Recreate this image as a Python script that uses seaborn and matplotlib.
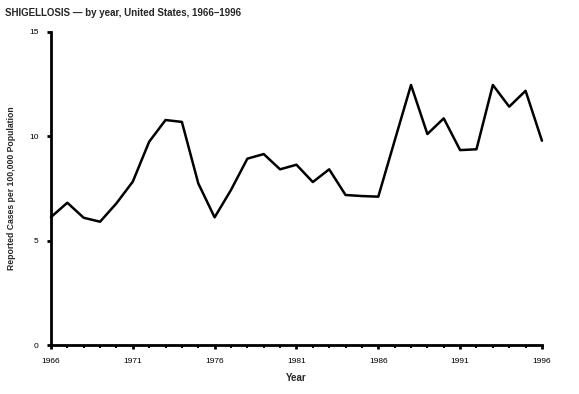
import pandas as pd
import matplotlib
matplotlib.use("Agg")
import matplotlib.pyplot as plt
from matplotlib.ticker import MultipleLocator
import seaborn as sns

# -------- DATA --------
years = list(range(1966, 1997))
rates = [6.13, 6.82, 6.10, 5.91, 6.79, 7.83, 9.74, 10.78, 10.69, 7.75,
         6.12, 7.43, 8.93, 9.15, 8.42, 8.64, 7.81, 8.42, 7.19, 7.14,
         7.11, 9.79, 12.46, 10.11, 10.86, 9.34, 9.38, 12.46, 11.42, 12.18,
         9.79]
x_ticks = [1966, 1971, 1976, 1981, 1986, 1991, 1996]
y_ticks = [0, 5, 10, 15]
# ----------------------

df = pd.DataFrame({"Year": years, "Rate": rates})

sns.set_style("ticks")
plt.rcParams["font.family"] = ["Liberation Sans", "DejaVu Sans"]

fig = plt.figure(figsize=(5.79, 3.94), dpi=100)
ax = fig.add_axes([0.088, 0.124, 0.848, 0.795])

sns.lineplot(data=df, x="Year", y="Rate", color="black", linewidth=1.8, ax=ax)
for line in ax.lines:
    line.set_clip_on(False)

ax.set_xlim(1966, 1996)
ax.set_ylim(0, 15)
ax.set_xticks(x_ticks)
ax.set_xticklabels([str(t) for t in x_ticks], fontsize=6)
ax.xaxis.set_minor_locator(MultipleLocator(1))
ax.set_yticks(y_ticks)
ax.set_yticklabels([str(t) for t in y_ticks], fontsize=6)

sns.despine(ax=ax)
for side in ["left", "bottom"]:
    ax.spines[side].set_linewidth(2)
    ax.spines[side].set_color("black")
ax.tick_params(axis="both", which="major", length=3, width=2, colors="black", pad=6)
ax.tick_params(axis="x", which="minor", length=2, width=1.5, colors="black")

ax.set_xlabel("Year", fontsize=7, fontweight="bold", labelpad=6)
ax.set_ylabel("Reported Cases per 100,000 Population", fontsize=6.2,
              fontweight="bold", labelpad=9)

fig.text(0.009, 0.968, "SHIGELLOSIS \u2014 by year, United States, 1966\u20131996",
         fontsize=7, fontweight="bold", ha="left", va="center")

fig.savefig("out.png", dpi=100)
